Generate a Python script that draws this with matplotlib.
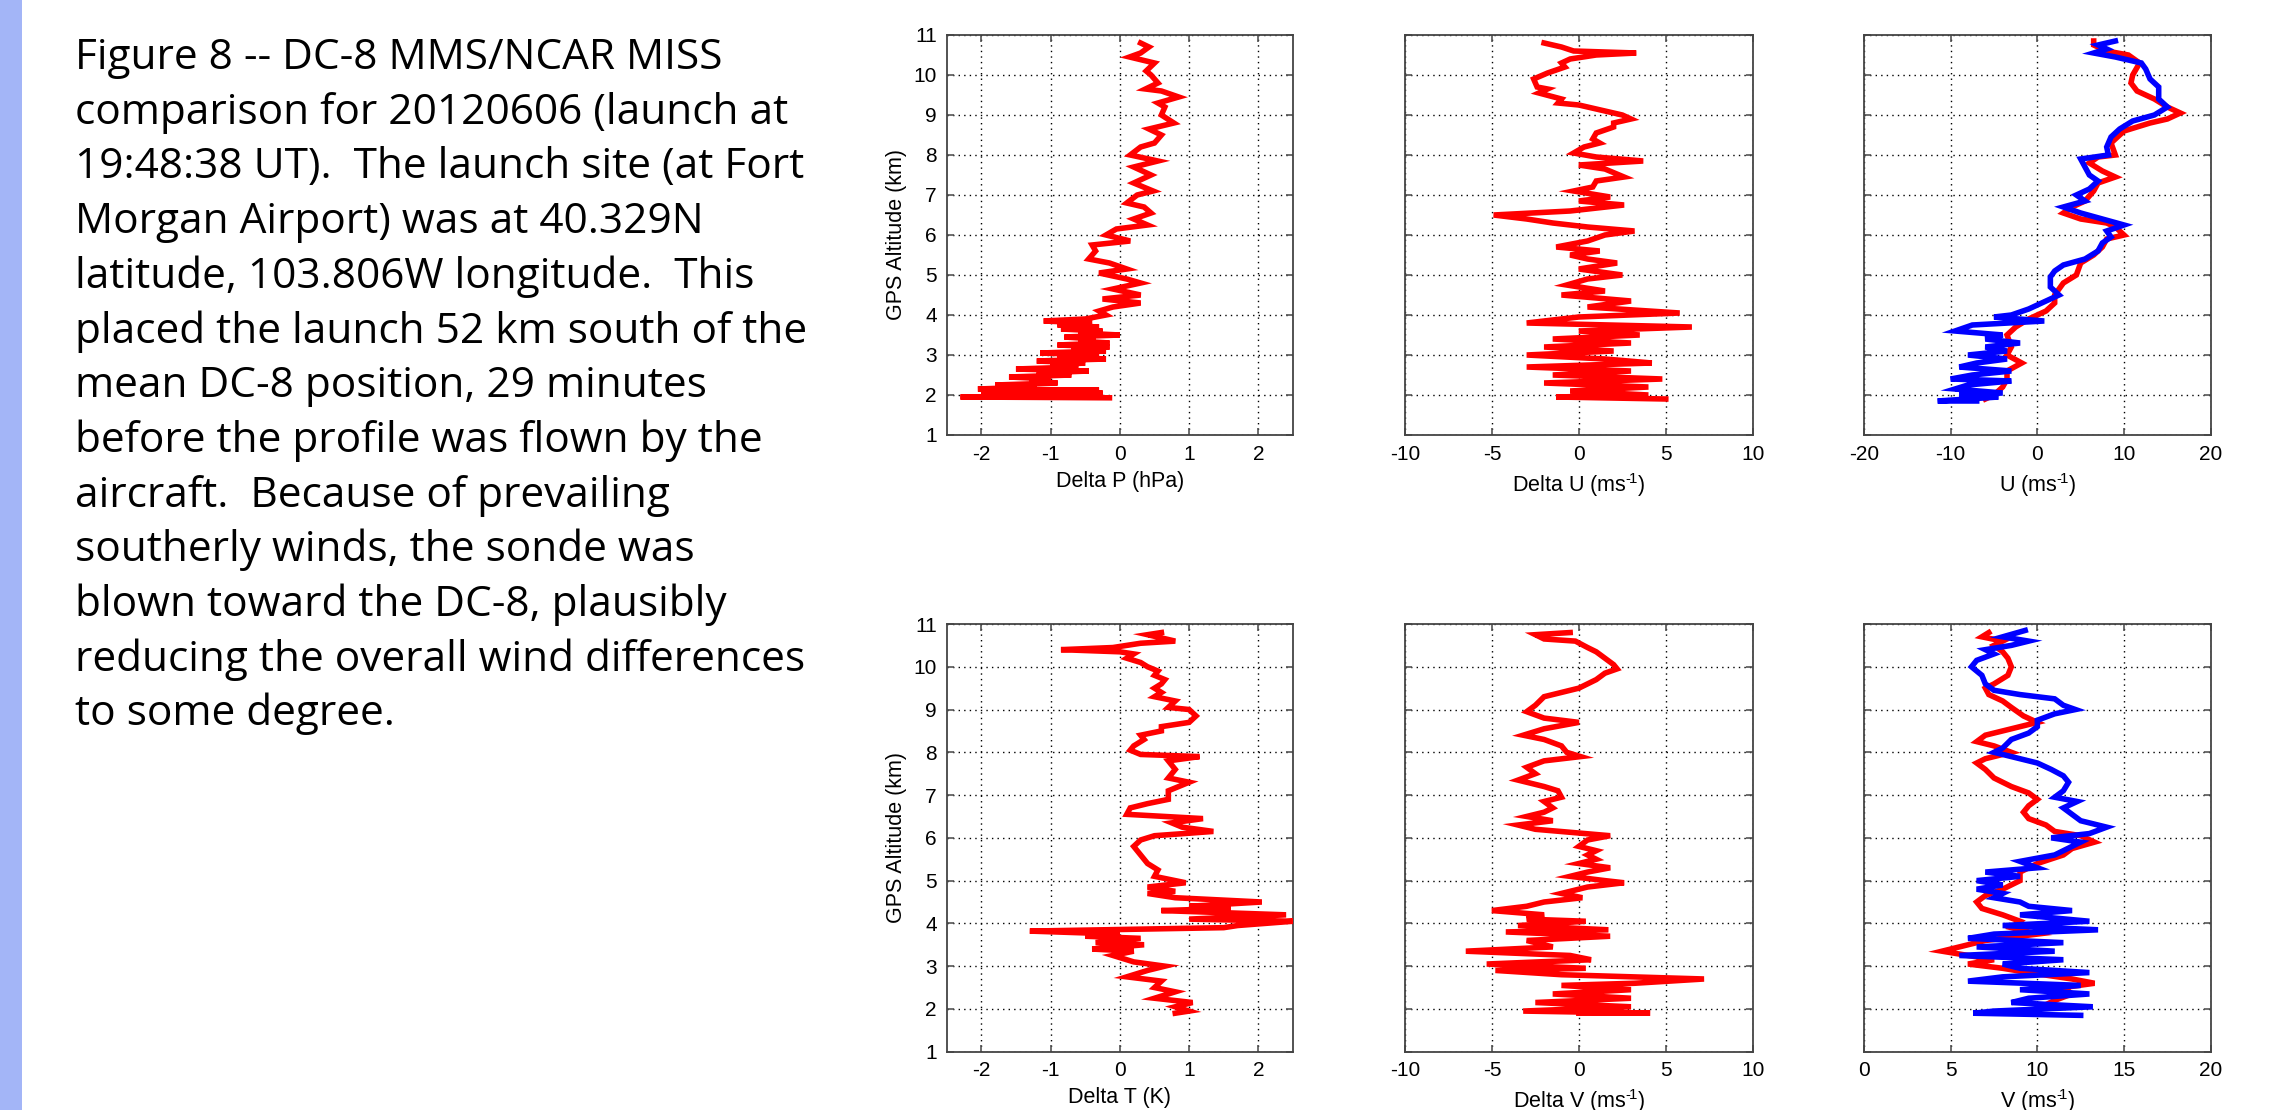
import matplotlib
matplotlib.use("Agg")
import matplotlib.pyplot as plt
from matplotlib.patches import Rectangle

plt.rcParams['font.family'] = ['Liberation Sans', 'DejaVu Sans']
plt.rcParams['mathtext.default'] = 'regular'
plt.rcParams['axes.unicode_minus'] = False

# ---------------- caption ----------------
caption_lines = [
    "Figure 8 -- DC-8 MMS/NCAR MISS",
    "comparison for 20120606 (launch at",
    "19:48:38 UT).  The launch site (at Fort",
    "Morgan Airport) was at 40.329N",
    "latitude, 103.806W longitude.  This",
    "placed the launch 52 km south of the",
    "mean DC-8 position, 29 minutes",
    "before the profile was flown by the",
    "aircraft.  Because of prevailing",
    "southerly winds, the sonde was",
    "blown toward the DC-8, plausibly",
    "reducing the overall wind differences",
    "to some degree.",
]

# ---------------- data ----------------
alt_ticks = [1, 2, 3, 4, 5, 6, 7, 8, 9, 10, 11]

# Delta P (hPa)
dp_alt = [10.8, 10.7, 10.55, 10.45, 10.3, 10.1, 10.0, 9.8, 9.65, 9.6, 9.45, 9.3, 9.2, 9.0, 8.8, 8.65,
          8.5, 8.3, 8.2, 8.0, 7.85, 7.7, 7.5, 7.3, 7.1, 7.0, 6.8, 6.7, 6.55, 6.4, 6.25, 6.15, 6.0,
          5.85, 5.75, 5.6, 5.4, 5.3, 5.15, 5.05, 4.9, 4.8, 4.65, 4.5, 4.4, 4.3, 4.2, 4.1, 4.0, 3.9,
          3.85, 3.8, 3.75, 3.7, 3.65, 3.6, 3.55, 3.5, 3.45, 3.4, 3.35, 3.3, 3.25, 3.2, 3.15, 3.1,
          3.05, 3.0, 2.95, 2.9, 2.85, 2.8, 2.75, 2.7, 2.65, 2.6, 2.55, 2.5, 2.45, 2.4, 2.35, 2.3,
          2.25, 2.2, 2.15, 2.12, 2.1, 2.05, 2.0, 1.97, 1.95, 1.93]
dp_val = [0.3, 0.42, 0.3, 0.14, 0.5, 0.38, 0.45, 0.55, 0.37, 0.6, 0.85, 0.55, 0.65, 0.6, 0.78, 0.42,
          0.6, 0.5, 0.3, 0.15, 0.55, 0.2, 0.45, 0.2, 0.48, 0.25, 0.1, 0.35, 0.45, 0.2, 0.4, -0.05, -0.2,
          0.15, -0.4, -0.35, -0.45, -0.15, 0.1, -0.3, 0.1, 0.3, -0.1, 0.3, -0.25, 0.3, -0.1, -0.3, -0.2, -0.5,
          -1.1, -0.4, -0.9, -0.3, -0.85, -0.25, -0.6, 0.0, -0.8, -0.35, -0.6, -0.15, -0.9, -0.15, -0.7, -0.2,
          -1.15, -0.3, -0.9, -0.2, -1.2, -0.5, -1.0, -0.6, -1.5, -0.45, -1.2, -0.7, -1.6, -1.0, -1.3, -0.9,
          -1.8, -1.2, -2.05, -0.3, -1.9, -0.25, -2.0, -0.4, -2.3, -0.15]

# Delta U (m/s)
du_alt = [10.8, 10.7, 10.6, 10.55, 10.5, 10.4, 10.3, 10.2, 10.05, 9.9, 9.7, 9.65, 9.55, 9.4, 9.3, 9.25,
          9.1, 9.0, 8.9, 8.8, 8.7, 8.55, 8.4, 8.3, 8.2, 8.05, 7.95, 7.85, 7.75, 7.65, 7.45, 7.35, 7.2,
          7.1, 6.95, 6.85, 6.75, 6.6, 6.5, 6.4, 6.3, 6.2, 6.1, 6.0, 5.85, 5.7, 5.6, 5.5, 5.4, 5.3, 5.15,
          5.0, 4.9, 4.75, 4.6, 4.5, 4.35, 4.2, 4.05, 3.95, 3.8, 3.7, 3.6, 3.5, 3.4, 3.3, 3.2, 3.1, 3.0,
          2.9, 2.8, 2.7, 2.6, 2.5, 2.4, 2.3, 2.2, 2.1, 2.0, 1.95, 1.9]
du_val = [-2.0, -1.0, -0.3, 3.3, 1.0, -0.5, -1.0, -0.8, -1.8, -2.6, -2.4, -1.8, -2.3, -1.0, -1.2, 0.0,
          1.5, 2.5, 3.0, 2.0, 2.0, 1.0, 0.8, 1.2, 0.3, -0.3, 1.0, 3.7, 0.0, 1.5, 2.6, 1.0, 0.8,
          -0.3, 1.8, 0.0, 2.6, -0.5, -4.9, -3.0, -1.5, 0.5, 3.2, 1.5, 0.5, -1.3, 1.2, -0.5, 0.5, 2.2, 0.0,
          2.5, 0.5, -0.7, 1.5, -1.0, 3.0, 0.5, 5.8, 0.0, -3.0, 6.5, 0.0, 3.5, -1.5, 3.0, -2.0, 2.0, -3.0,
          1.5, 4.2, -3.0, 3.0, -1.5, 4.8, -2.0, 4.0, -0.5, 4.0, -1.3, 5.0]

# U (m/s): red and blue profiles
ur_alt = [10.85, 10.75, 10.6, 10.5, 10.3, 10.0, 9.8, 9.6, 9.4, 9.2, 9.05, 8.9, 8.8, 8.6, 8.5, 8.3, 8.0,
          7.95, 7.8, 7.6, 7.45, 7.3, 7.1, 6.85, 6.7, 6.55, 6.4, 6.3, 6.2, 6.0, 5.9, 5.7, 5.5, 5.3, 5.0,
          4.8, 4.5, 4.3, 4.1, 3.9, 3.7, 3.5, 3.2, 3.0, 2.8, 2.6, 2.4, 2.2, 2.0, 1.9]
ur_val = [6.5, 6.5, 8.0, 10.5, 11.8, 11.0, 10.8, 11.5, 13.5, 15.0, 16.5, 15.0, 13.0, 10.0, 9.5, 8.5, 9.0,
          7.0, 6.0, 7.5, 9.0, 7.0, 6.5, 5.5, 4.0, 3.0, 5.0, 8.0, 9.0, 10.0, 8.0, 7.5, 6.5, 5.0, 4.5,
          3.0, 2.0, 2.0, 1.0, -1.0, -2.5, -3.5, -3.0, -3.5, -1.8, -3.5, -3.5, -4.0, -5.0, -6.0]
ub_alt = [10.85, 10.75, 10.65, 10.55, 10.45, 10.3, 10.15, 9.9, 9.7, 9.4, 9.2, 9.0, 8.85, 8.65, 8.45,
          8.2, 8.0, 7.9, 7.7, 7.5, 7.35, 7.15, 7.0, 6.85, 6.7, 6.55, 6.4, 6.25, 6.1, 5.95, 5.8, 5.6,
          5.4, 5.25, 5.1, 4.95, 4.7, 4.5, 4.3, 4.15, 4.0, 3.95, 3.85, 3.75, 3.6, 3.5, 3.4, 3.3, 3.2,
          3.1, 3.0, 2.9, 2.8, 2.7, 2.6, 2.5, 2.4, 2.35, 2.25, 2.15, 2.05, 2.0, 1.95, 1.85, 1.85]
ub_val = [9.0, 7.0, 8.0, 6.5, 9.0, 12.0, 12.5, 13.0, 14.0, 14.0, 15.0, 13.5, 11.0, 9.5, 8.5,
          8.0, 8.2, 5.0, 5.5, 6.0, 7.0, 6.0, 4.5, 5.5, 3.0, 5.0, 7.5, 10.0, 8.0, 8.5, 7.5, 7.0,
          5.5, 3.0, 2.0, 1.5, 1.5, 2.5, 0.5, -1.0, -3.0, -5.0, 0.8, -7.5, -9.5, -4.0, -6.0, -2.0, -6.0,
          -3.5, -8.0, -3.5, -7.0, -9.0, -3.0, -7.5, -10.0, -3.0, -8.0, -9.5, -4.0, -9.0, -4.5, -11.5, -7.0]

# Delta T (K)
dt_alt = [10.8, 10.75, 10.6, 10.55, 10.45, 10.4, 10.35, 10.3, 10.2, 10.1, 10.0, 9.9, 9.8, 9.7, 9.6,
          9.5, 9.4, 9.3, 9.2, 9.05, 9.0, 8.85, 8.7, 8.6, 8.5, 8.4, 8.3, 8.15, 8.05, 7.95, 7.9, 7.8,
          7.6, 7.4, 7.3, 7.1, 6.9, 6.8, 6.7, 6.55, 6.45, 6.35, 6.25, 6.15, 6.05, 5.95, 5.8, 5.6, 5.4,
          5.25, 5.1, 4.95, 4.85, 4.75, 4.7, 4.6, 4.5, 4.4, 4.35, 4.3, 4.2, 4.1, 4.05, 3.95, 3.9, 3.82,
          3.75, 3.7, 3.65, 3.55, 3.5, 3.4, 3.35, 3.25, 3.1, 3.0, 2.9, 2.75, 2.65, 2.5, 2.4, 2.25,
          2.15, 2.05, 1.95, 1.9]
dt_val = [0.6, 0.4, 0.8, 0.3, -0.1, -0.85, 0.0, 0.2, 0.1, 0.3, 0.4, 0.55, 0.5, 0.65, 0.6,
          0.5, 0.6, 0.5, 0.8, 0.7, 1.0, 1.1, 1.0, 0.6, 0.6, 0.3, 0.35, 0.2, 0.15, 0.3, 1.15, 0.7,
          0.8, 0.7, 1.0, 0.7, 0.7, 0.4, 0.15, 0.1, 1.2, 0.75, 0.9, 1.35, 0.5, 0.3, 0.2, 0.3, 0.4,
          0.55, 0.5, 0.95, 0.4, 0.8, 0.4, 0.8, 2.05, 1.0, 1.6, 0.6, 2.4, 1.0, 2.5, 1.7, 1.5, -1.3,
          0.0, -0.5, 0.3, -0.35, 0.35, -0.4, 0.2, -0.1, 0.2, 0.65, 0.4, 0.1, 0.6, 0.5, 0.8, 0.5,
          1.05, 0.8, 1.0, 0.8]

# Delta V (m/s)
dv_alt = [10.8, 10.75, 10.65, 10.6, 10.45, 10.35, 10.2, 10.05, 9.95, 9.85, 9.7, 9.6, 9.5, 9.3, 9.1,
          8.95, 8.8, 8.7, 8.55, 8.4, 8.3, 8.15, 8.0, 7.9, 7.8, 7.65, 7.5, 7.35, 7.2, 7.1, 6.95, 6.85,
          6.7, 6.6, 6.5, 6.4, 6.3, 6.2, 6.05, 5.95, 5.8, 5.7, 5.6, 5.5, 5.4, 5.3, 5.2, 5.1, 5.0, 4.95,
          4.85, 4.7, 4.6, 4.5, 4.4, 4.3, 4.2, 4.1, 4.05, 3.95, 3.85, 3.8, 3.7, 3.6, 3.45, 3.35, 3.25,
          3.15, 3.05, 2.95, 2.9, 2.8, 2.7, 2.6, 2.55, 2.45, 2.35, 2.25, 2.15, 2.05, 1.95, 1.9, 1.9]
dv_val = [-0.5, -2.5, -2.0, -0.2, 0.5, 1.0, 1.5, 2.0, 2.2, 1.5, 1.0, 0.5, 0.0, -2.0, -2.5,
          -3.0, -2.0, 0.0, -2.0, -3.2, -2.0, -1.0, -0.7, 0.1, -2.0, -3.0, -2.5, -3.5, -2.0, -1.2, -1.0, -2.0,
          -1.5, -2.0, -3.0, -1.5, -3.5, -2.5, 1.8, 0.5, 0.0, 1.0, 0.5, 1.0, 0.0, 1.8, 0.5, -0.5, 1.5, 2.6,
          0.5, -1.0, 0.2, -2.0, -3.0, -5.0, -2.0, -3.0, 0.4, -3.5, 1.7, -4.2, 1.8, -3.0, -1.5, -6.5, -0.5,
          0.7, -5.3, 0.4, -4.8, -1.0, 7.2, 3.2, -1.0, 3.0, -1.5, 3.0, -2.5, 3.0, -3.2, 4.1, 0.0]

# V (m/s): red and blue profiles
vr_alt = [10.8, 10.7, 10.6, 10.5, 10.35, 10.2, 10.0, 9.8, 9.6, 9.5, 9.35, 9.2, 9.05, 8.85, 8.7, 8.55,
          8.4, 8.25, 8.15, 8.0, 7.85, 7.75, 7.6, 7.4, 7.2, 7.05, 6.9, 6.75, 6.6, 6.45, 6.3, 6.15, 6.05,
          5.9, 5.75, 5.6, 5.4, 5.2, 5.0, 4.8, 4.65, 4.5, 4.35, 4.2, 4.05, 3.9, 3.75, 3.6, 3.45, 3.35,
          3.25, 3.15, 3.05, 2.95, 2.85, 2.7, 2.6, 2.5, 2.35, 2.2, 2.0, 1.9]
vr_val = [7.2, 6.8, 8.0, 7.5, 8.0, 8.3, 8.5, 8.3, 7.5, 7.0, 7.2, 8.0, 8.5, 9.2, 10.0, 8.5,
          7.0, 6.5, 7.5, 8.5, 7.0, 6.5, 7.0, 7.5, 8.5, 9.5, 10.0, 9.5, 9.2, 9.5, 10.5, 11.0, 12.5,
          13.3, 12.0, 11.5, 10.0, 9.0, 9.0, 8.0, 7.0, 6.5, 6.8, 8.0, 9.0, 8.5, 10.0, 7.0, 5.5, 4.5,
          6.0, 7.5, 6.0, 8.0, 9.5, 12.0, 13.3, 11.5, 12.0, 11.0, 10.0, 9.5]
vb_alt = [10.85, 10.7, 10.6, 10.5, 10.4, 10.3, 10.15, 10.0, 9.8, 9.6, 9.45, 9.35, 9.25, 9.1, 9.0,
          8.9, 8.75, 8.6, 8.45, 8.3, 8.1, 8.0, 7.9, 7.75, 7.6, 7.45, 7.3, 7.1, 6.95, 6.85, 6.7, 6.55,
          6.4, 6.25, 6.1, 6.0, 5.9, 5.8, 5.6, 5.45, 5.3, 5.2, 5.1, 5.0, 4.9, 4.8, 4.7, 4.6, 4.5, 4.4,
          4.3, 4.2, 4.05, 3.95, 3.85, 3.75, 3.65, 3.55, 3.45, 3.35, 3.25, 3.15, 3.05, 2.95, 2.85, 2.75,
          2.65, 2.55, 2.45, 2.35, 2.25, 2.15, 2.05, 1.95, 1.9, 1.85]
vb_val = [9.3, 8.0, 9.5, 8.5, 7.0, 7.5, 6.5, 6.2, 6.8, 7.0, 7.5, 9.0, 11.0, 11.5, 12.2,
          11.0, 10.0, 10.0, 9.5, 8.5, 8.0, 7.5, 8.5, 10.0, 10.8, 11.5, 11.8, 11.5, 11.0, 12.3, 11.5, 12.0,
          12.5, 14.0, 13.0, 10.8, 12.5, 12.0, 11.0, 9.0, 10.0, 7.0, 9.0, 6.5, 8.0, 6.5, 8.0, 7.5, 9.0, 9.5,
          12.0, 9.0, 13.0, 8.0, 13.5, 7.5, 6.0, 11.5, 6.5, 11.0, 5.5, 11.5, 8.0, 9.0, 13.0, 8.0,
          6.0, 12.5, 9.0, 13.0, 9.5, 8.5, 13.2, 7.5, 6.3, 12.5]

# ---------------- figure ----------------
W, H = 2277, 1110
fig = plt.figure(figsize=(W / 100, H / 100), dpi=100)
fig.patches.append(Rectangle((0, 0), 22 / W, 1, transform=fig.transFigure,
                             facecolor='#a3b5f7', edgecolor='none'))

for i, line in enumerate(caption_lines):
    fig.text(75 / W, 1 - (69 + i * 54.7) / H, line, fontsize=30.5,
             family=['Open Sans', 'DejaVu Sans'], va='baseline', ha='left', color='black')

col_left = [946.7, 1405, 1864]
col_width = [346.3, 347.7, 346.7]
row_top = [35, 624]
row_height = [400, 427.7]

unit = 'ms$^{\u2010\\!1}$'
panels = [
    (0, 0, [(dp_val, dp_alt, 'red')], (-2.5, 2.5), [-2, -1, 0, 1, 2], 'Delta P (hPa)'),
    (0, 1, [(du_val, du_alt, 'red')], (-10, 10), [-10, -5, 0, 5, 10], 'Delta U (' + unit + ')'),
    (0, 2, [(ur_val, ur_alt, 'red'), (ub_val, ub_alt, 'blue')], (-20, 20), [-20, -10, 0, 10, 20], 'U (' + unit + ')'),
    (1, 0, [(dt_val, dt_alt, 'red')], (-2.5, 2.5), [-2, -1, 0, 1, 2], 'Delta T (K)'),
    (1, 1, [(dv_val, dv_alt, 'red')], (-10, 10), [-10, -5, 0, 5, 10], 'Delta V (' + unit + ')'),
    (1, 2, [(vr_val, vr_alt, 'red'), (vb_val, vb_alt, 'blue')], (0, 20), [0, 5, 10, 15, 20], 'V (' + unit + ')'),
]

for r, c, series, xlim, xt, xlabel in panels:
    rect = [col_left[c] / W, 1 - (row_top[r] + row_height[r]) / H,
            col_width[c] / W, row_height[r] / H]
    ax = fig.add_axes(rect)
    for xs, ys, colr in series:
        ax.plot(xs, ys, color=colr, linewidth=4.0, solid_joinstyle='miter', zorder=3)
    ax.set_xlim(*xlim)
    ax.set_ylim(1, 11)
    ax.set_xticks(xt)
    ax.set_xticklabels([str(v) for v in xt])
    ax.set_yticks(alt_ticks)
    if c == 0:
        ax.set_yticklabels([str(v) for v in alt_ticks])
        ax.set_ylabel('GPS Altitude (km)', fontsize=15.5, labelpad=5)
    else:
        ax.set_yticklabels([])
    ax.set_xlabel(xlabel, fontsize=15.5, labelpad=5)
    ax.grid(True, color='black', linestyle=(0, (1, 3)), linewidth=1.0)
    ax.tick_params(direction='in', length=5, width=1.2, color='#555555', labelsize=15,
                   top=True, right=True, pad=7)
    for s in ax.spines.values():
        s.set_color('#444444')
        s.set_linewidth(1.3)

fig.savefig('out.png', dpi=100, facecolor='white')
